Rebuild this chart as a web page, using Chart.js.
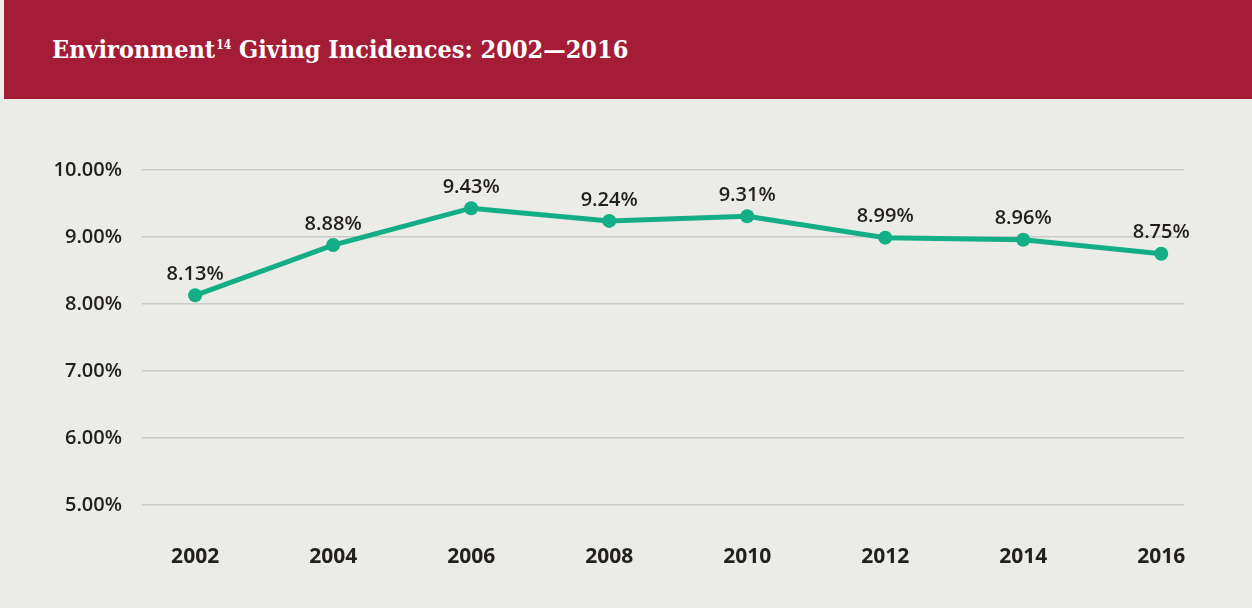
<!DOCTYPE html>
<html>
<head>
<meta charset="utf-8">
<script src="https://cdn.jsdelivr.net/npm/chart.js@4/dist/chart.umd.min.js"></script>
<style>
  html, body { margin: 0; padding: 0; background: #fff; }
  #page { position: relative; width: 1252px; height: 608px; background: #ebebe7; overflow: hidden; }
  #header {
    position: absolute; left: 4px; top: 0; width: 1248px; height: 99px;
    background: #a41c35;
  }
  #header h1 {
    margin: 0; position: absolute; left: 48px; top: 35px;
    font-family: "DejaVu Serif Condensed", "DejaVu Serif", serif;
    font-weight: bold; font-size: 25px; color: #fff; letter-spacing: 0;
    white-space: nowrap;
  }
  #header h1 sup { font-size: 12px; vertical-align: 9px; margin-left: 1px; }
  #wrap { position: absolute; left: 0; top: 100px; width: 1252px; height: 508px; }
</style>
</head>
<body>
<div id="page">
  <div id="header"><h1>Environment<sup>14</sup> Giving Incidences: 2002—2016</h1></div>
  <div id="wrap"><canvas id="giving" width="1252" height="508"></canvas></div>
</div>
<script>
// giving incidence by survey year, in percent
const years = [2002, 2004, 2006, 2008, 2010, 2012, 2014, 2016];
const incidence = [8.13, 8.88, 9.43, 9.24, 9.31, 8.99, 8.96, 8.75];
const yTicks = [5, 6, 7, 8, 9, 10];

const green = '#13ae85';
const ink = '#231f20';
const labelFont = { family: '"Open Sans", sans-serif', size: 20, weight: '600' };

// value labels above each point
const valueLabels = {
    id: 'valueLabels',
    afterDatasetsDraw(chart) {
        const ctx = chart.ctx;
        const meta = chart.getDatasetMeta(0);
        ctx.save();
        ctx.font = '600 20px "Open Sans", sans-serif';
        ctx.fillStyle = ink;
        ctx.textAlign = 'center';
        ctx.textBaseline = 'middle';
        meta.data.forEach(function(pt, i) {
            ctx.fillText(incidence[i].toFixed(2) + '%', pt.x, pt.y - 21);
        });
        ctx.restore();
    }
};

new Chart(document.getElementById('giving'), {
    type: 'line',
    data: {
        datasets: [{
            data: years.map(function(y, i) { return { x: y, y: incidence[i] }; }),
            borderColor: green,
            backgroundColor: green,
            borderWidth: 5,
            pointRadius: 7,
            pointHoverRadius: 7,
            pointBorderWidth: 0,
            tension: 0
        }]
    },
    options: {
        responsive: false,
        animation: false,
        events: [],
        layout: { padding: { top: 70, right: 68, left: 0, bottom: 0 } },
        plugins: { legend: { display: false }, tooltip: { enabled: false } },
        scales: {
            x: {
                type: 'linear',
                min: 2001.23,
                max: 2016.33,
                afterBuildTicks(scale) { scale.ticks = years.map(function(v) { return { value: v }; }); },
                afterFit(scale) { scale.height = 103; },
                grid: { display: false, drawTicks: false },
                border: { display: false },
                ticks: {
                    padding: 39,
                    color: ink,
                    font: { family: '"Open Sans", sans-serif', size: 21, weight: 'bold' },
                    callback: function(v) { return String(v); }
                }
            },
            y: {
                min: 5,
                max: 10,
                afterBuildTicks(scale) { scale.ticks = yTicks.map(function(v) { return { value: v }; }); },
                afterFit(scale) { scale.width = 142; },
                grid: { color: '#c9c9c6', lineWidth: 1.5, drawTicks: false },
                border: { display: false },
                ticks: {
                    padding: 20,
                    color: ink,
                    font: labelFont,
                    callback: function(v) { return v.toFixed(2) + '%'; }
                }
            }
        }
    },
    plugins: [valueLabels]
});
</script>
</body>
</html>
